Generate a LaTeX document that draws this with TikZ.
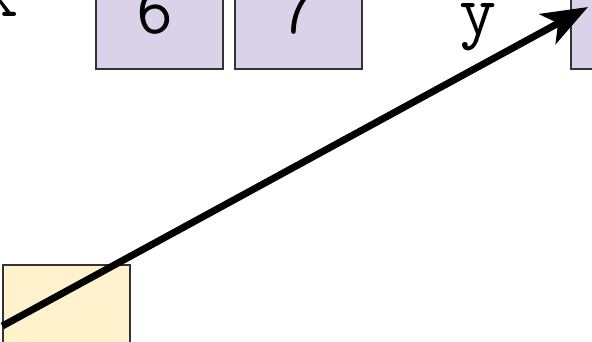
\documentclass[tikz,border=0pt]{standalone}
\usetikzlibrary{arrows.meta}
\definecolor{lav}{HTML}{D9D2E9}
\definecolor{ylw}{HTML}{FFF2CC}
\definecolor{edge}{HTML}{333333}
\begin{document}
\begin{tikzpicture}[x=1pt,y=1pt,
  cell/.style={draw=edge, line width=1.3pt, minimum width=127pt, minimum height=127pt, inner sep=0pt},
  lbl/.style={font=\ttfamily\fontsize{72}{84}\selectfont, inner sep=0pt, anchor=base},
  conn/.style={line width=7pt, -{Stealth[length=46pt,width=34pt,inset=12pt]}}]
\useasboundingbox (0,0) rectangle (592,-341);
\clip (0,0) rectangle (592,-341);
\node[cell, fill=lav] (b6) at (159.5,-5.5) {};
\node[cell, fill=lav] (b7) at (298.5,-5.5) {};
\node[cell, fill=lav] (br) at (634.5,-5.5) {};
\node[cell, fill=ylw] (yb) at (66.5,-328.5) {};
\node[lbl] (tx) at (0,-16) {x};
\node[lbl] (t6) at (155,-33) {6};
\node[lbl] (t7) at (298.5,-33) {7};
\node[lbl] (ty) at (478,-34) {y};
\coordinate (tip) at (588,-7);
\draw[conn] (yb.west) ++(0,2.5) coordinate (st) (st) -- (tip);
\end{tikzpicture}
\end{document}
